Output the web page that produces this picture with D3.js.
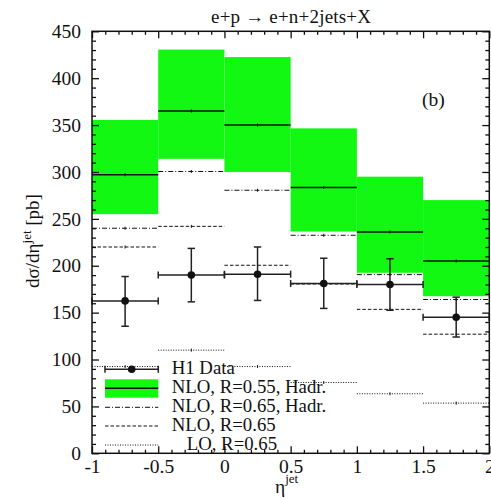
<!DOCTYPE html>
<html>
<head>
<meta charset="utf-8">
<script src="https://cdn.jsdelivr.net/npm/d3@7"></script>
<style>
  html, body { margin: 0; padding: 0; background: #fff; }
  svg { display: block; }
  text { font-family: "Liberation Serif", "Times New Roman", serif; fill: #111; }
</style>
</head>
<body>
<svg id="chart" width="491" height="499"></svg>
<script>
// Bin edges in eta^jet
const binEdges = [-1, -0.5, 0, 0.5, 1, 1.5, 2];

// NLO, R=0.55, hadronised: central value and uncertainty band
const nlo055Central = [297, 365, 350, 283.5, 236, 205];
const nlo055Low     = [255, 314, 300, 236.5, 192.5, 167.5];
const nlo055High    = [355.5, 430.5, 422.5, 346.5, 295, 270];

// NLO, R=0.65, hadronised (dash-dot)
const nlo065Hadr = [240, 300.5, 280.5, 232.5, 190.5, 164];
// NLO, R=0.65 (dashed)
const nlo065 = [220, 242, 200.5, 180.5, 153.5, 127];
// LO, R=0.65 (dotted)
const lo065 = [92.5, 110, 92.5, 75.5, 63.5, 53.5];

// H1 data with total error range
const h1Value = [162.5, 190, 191, 181, 180, 145];
const h1ErrHigh = [188.5, 218.5, 220, 208, 207.5, 166.5];
const h1ErrLow  = [135.5, 161.5, 163, 154.5, 152.5, 124];

// Axis ticks
const xMajorTicks = [-1, -0.5, 0, 0.5, 1, 1.5, 2];
const xTickLabels = ["-1", "-0.5", "0", "0.5", "1", "1.5", "2"];
const yMajorTicks = [0, 50, 100, 150, 200, 250, 300, 350, 400, 450];

const legendLabels = ["H1 Data", "NLO, R=0.55, Hadr.", "NLO, R=0.65, Hadr.", "NLO, R=0.65", "LO, R=0.65"];

const svg = d3.select("#chart");
const plotLeft = 92, plotRight = 489.3, plotTop = 31.3, plotBottom = 453.3;

const x = d3.scaleLinear().domain([-1, 2]).range([plotLeft, plotRight]);
const y = d3.scaleLinear().domain([0, 450]).range([plotBottom, plotTop]);

// green dithered fill for the uncertainty band
const defs = svg.append("defs");
const pat = defs.append("pattern").attr("id", "band").attr("width", 2).attr("height", 2)
  .attr("patternUnits", "userSpaceOnUse");
pat.append("rect").attr("width", 2).attr("height", 2).attr("fill", "#00ff00");
pat.append("rect").attr("x", 0).attr("y", 0).attr("width", 1).attr("height", 1).attr("fill", "#22f022");
pat.append("rect").attr("x", 1).attr("y", 1).attr("width", 1).attr("height", 1).attr("fill", "#22f022");

const bins = d3.range(binEdges.length - 1).map(i => ({
  x0: binEdges[i], x1: binEdges[i + 1], xc: (binEdges[i] + binEdges[i + 1]) / 2,
  c: nlo055Central[i], lo: nlo055Low[i], hi: nlo055High[i],
  dd: nlo065Hadr[i], da: nlo065[i], dt: lo065[i],
  v: h1Value[i], eh: h1ErrHigh[i], el: h1ErrLow[i]
}));

const plot = svg.append("g");

// uncertainty band
plot.selectAll("rect.band").data(bins).join("rect")
  .attr("class", "band")
  .attr("x", d => x(d.x0)).attr("width", d => x(d.x1) - x(d.x0))
  .attr("y", d => y(d.hi)).attr("height", d => y(d.lo) - y(d.hi))
  .attr("fill", "url(#band)");

// theory histograms
const curves = [
  { key: "dt", dash: "1,1.5", w: 1 },
  { key: "da", dash: "3.5,2", w: 1 },
  { key: "dd", dash: "5,2,1,2", w: 1 },
  { key: "c", dash: null, w: 1.5 }
];
curves.forEach(cv => {
  const g = plot.append("g");
  g.selectAll("line.h").data(bins).join("line")
    .attr("x1", d => x(d.x0)).attr("x2", d => x(d.x1))
    .attr("y1", d => y(d[cv.key])).attr("y2", d => y(d[cv.key]))
    .attr("stroke", "#111").attr("stroke-width", cv.w)
    .attr("stroke-dasharray", cv.dash);
  g.selectAll("line.m").data(bins).join("line")
    .attr("x1", d => x(d.xc)).attr("x2", d => x(d.xc))
    .attr("y1", d => y(d[cv.key]) - 1.5).attr("y2", d => y(d[cv.key]) + 1.5)
    .attr("stroke", "#111").attr("stroke-width", 1);
});

// H1 data points
const dataG = plot.append("g").attr("stroke", "#222").attr("stroke-width", 1.5);
dataG.selectAll("line.hx").data(bins).join("line")
  .attr("x1", d => x(d.x0)).attr("x2", d => x(d.x1))
  .attr("y1", d => y(d.v)).attr("y2", d => y(d.v));
dataG.selectAll("line.c0").data(bins).join("line")
  .attr("x1", d => x(d.x0)).attr("x2", d => x(d.x0))
  .attr("y1", d => y(d.v) - 3.5).attr("y2", d => y(d.v) + 3.5);
dataG.selectAll("line.c1").data(bins).join("line")
  .attr("x1", d => x(d.x1)).attr("x2", d => x(d.x1))
  .attr("y1", d => y(d.v) - 3.5).attr("y2", d => y(d.v) + 3.5);
dataG.selectAll("line.vy").data(bins).join("line")
  .attr("x1", d => x(d.xc)).attr("x2", d => x(d.xc))
  .attr("y1", d => y(d.eh)).attr("y2", d => y(d.el));
dataG.selectAll("line.ct").data(bins).join("line")
  .attr("x1", d => x(d.xc) - 3.7).attr("x2", d => x(d.xc) + 3.7)
  .attr("y1", d => y(d.eh)).attr("y2", d => y(d.eh));
dataG.selectAll("line.cb").data(bins).join("line")
  .attr("x1", d => x(d.xc) - 3.7).attr("x2", d => x(d.xc) + 3.7)
  .attr("y1", d => y(d.el)).attr("y2", d => y(d.el));
plot.selectAll("circle.pt").data(bins).join("circle")
  .attr("cx", d => x(d.xc)).attr("cy", d => y(d.v)).attr("r", 3.8).attr("fill", "#111");

// legend
const lg = svg.append("g");
const lx0 = 105, lx1 = 158.3, lxc = 131.7;
const rowY = [369.3, 388.3, 407.3, 426, 445];
lg.append("line").attr("x1", lx0).attr("x2", lx1).attr("y1", rowY[0]).attr("y2", rowY[0])
  .attr("stroke", "#222").attr("stroke-width", 1.5);
[lx0, lx1].forEach(xx => lg.append("line").attr("x1", xx).attr("x2", xx)
  .attr("y1", rowY[0] - 3.5).attr("y2", rowY[0] + 3.5).attr("stroke", "#222").attr("stroke-width", 1.5));
lg.append("circle").attr("cx", lxc).attr("cy", rowY[0]).attr("r", 3.8).attr("fill", "#111");
lg.append("rect").attr("x", lx0).attr("width", lx1 - lx0).attr("y", 379.3).attr("height", 18.4)
  .attr("fill", "url(#band)");
lg.append("line").attr("x1", lx0).attr("x2", lx1).attr("y1", rowY[1]).attr("y2", rowY[1])
  .attr("stroke", "#111").attr("stroke-width", 1.5);
[["5,2,1,2", 2], ["3.5,2", 3], ["1,1.5", 4]].forEach(([dash, r]) => {
  lg.append("line").attr("x1", lx0).attr("x2", lx1).attr("y1", rowY[r]).attr("y2", rowY[r])
    .attr("stroke", "#111").attr("stroke-width", 1).attr("stroke-dasharray", dash);
});
const textX = [171.7, 171.7, 171.7, 171.7, 186.7];
const textY = [374.3, 393.3, 412.3, 431.3, 450];
lg.selectAll("text").data(legendLabels).join("text")
  .attr("x", (d, i) => textX[i]).attr("y", (d, i) => textY[i])
  .attr("font-size", 18.8).text(d => d);

// axes: major ticks with labels, minor ticks, on all four sides (pointing inward)
const fmtX = d => xTickLabels[xMajorTicks.indexOf(d)];
function styleAxis(g) {
  g.select(".domain").remove();
  g.selectAll(".tick line").attr("stroke", "#111").attr("stroke-width", 1.3);
  g.selectAll("text").attr("font-size", 19.5).attr("fill", "#111")
    .attr("font-family", "Liberation Serif, serif");
}
const minorX = d3.range(-10, 21).map(v => v / 10).filter(v => !xMajorTicks.some(t => Math.abs(t - v) < 1e-9));
const minorY = d3.range(0, 451, 10).filter(v => v % 50 !== 0);

svg.append("g").attr("transform", `translate(0,${plotBottom})`)
  .call(d3.axisBottom(x).tickValues(xMajorTicks).tickFormat(fmtX).tickSize(-7).tickPadding(6))
  .call(styleAxis);
svg.append("g").attr("transform", `translate(0,${plotBottom})`)
  .call(d3.axisBottom(x).tickValues(minorX).tickFormat("").tickSize(-3.5)).call(styleAxis);
svg.append("g").attr("transform", `translate(0,${plotTop})`)
  .call(d3.axisTop(x).tickValues(xMajorTicks).tickFormat("").tickSize(-7)).call(styleAxis);
svg.append("g").attr("transform", `translate(0,${plotTop})`)
  .call(d3.axisTop(x).tickValues(minorX).tickFormat("").tickSize(-3.5)).call(styleAxis);

svg.append("g").attr("transform", `translate(${plotLeft},0)`)
  .call(d3.axisLeft(y).tickValues(yMajorTicks).tickSize(-7).tickPadding(11))
  .call(styleAxis);
svg.append("g").attr("transform", `translate(${plotLeft},0)`)
  .call(d3.axisLeft(y).tickValues(minorY).tickFormat("").tickSize(-4)).call(styleAxis);
svg.append("g").attr("transform", `translate(${plotRight},0)`)
  .call(d3.axisRight(y).tickValues(yMajorTicks).tickFormat("").tickSize(-7)).call(styleAxis);
svg.append("g").attr("transform", `translate(${plotRight},0)`)
  .call(d3.axisRight(y).tickValues(minorY).tickFormat("").tickSize(-4)).call(styleAxis);

// frame
svg.append("rect").attr("x", plotLeft).attr("y", plotTop)
  .attr("width", plotRight - plotLeft).attr("height", plotBottom - plotTop)
  .attr("fill", "none").attr("stroke", "#111").attr("stroke-width", 1.5);

// title and annotations
svg.append("text").attr("x", 291).attr("y", 23.3).attr("text-anchor", "middle")
  .attr("font-size", 19).attr("textLength", 160).attr("lengthAdjust", "spacing")
  .text("e+p \u2192 e+n+2jets+X");
svg.append("text").attr("x", 422).attr("y", 106).attr("font-size", 19.5).text("(b)");

// x-axis title
const xt = svg.append("text").attr("x", 275).attr("y", 493).attr("font-size", 19.5);
xt.append("tspan").text("\u03b7");
xt.append("tspan").attr("dy", -10).attr("font-size", 13).text("jet");

// y-axis title
const yt = svg.append("text").attr("transform", "translate(39,241) rotate(-90)")
  .attr("text-anchor", "middle").attr("font-size", 19);
yt.append("tspan").text("d\u03c3/d\u03b7");
yt.append("tspan").attr("dy", -8).attr("font-size", 13).text("jet");
yt.append("tspan").attr("dy", 8).text(" [pb]");
</script>
</body>
</html>
